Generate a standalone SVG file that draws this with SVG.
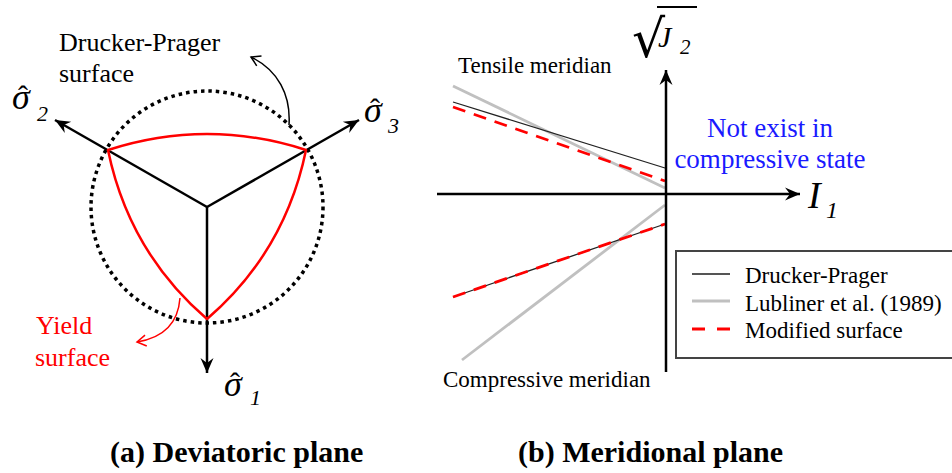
<svg xmlns="http://www.w3.org/2000/svg" width="952" height="473" viewBox="0 0 952 473">
<style>
text{font-family:"Liberation Serif","Times New Roman",serif;}
.lbl{font-size:26px;fill:#000;}
.red{fill:#ff0000;}
.blue{font-size:27px;fill:#1a1aff;}
.leg{font-size:23px;fill:#000;}
.mer{font-size:23px;fill:#000;}
.cap{font-size:30px;font-weight:bold;fill:#000;}
.sig{font-size:36px;font-style:italic;fill:#000;}
.hat{font-size:30px;font-style:normal;}
.sub{font-size:22px;font-style:italic;}
.axis{stroke:#000;stroke-width:2.5;fill:none;}
.dp{stroke:#222;stroke-width:1.3;fill:none;}
.lub{stroke:#c0c0c0;stroke-width:2.8;fill:none;}
.mod{stroke:#ff0000;stroke-width:2.8;stroke-dasharray:13 9;fill:none;}
</style>
<defs>
<marker id="ah" markerUnits="userSpaceOnUse" markerWidth="20" markerHeight="16" viewBox="-16 -8 20 16" refX="0" refY="0" orient="auto">
<path d="M0,0 L-15,-6.5 L-10,0 L-15,6.5 Z" fill="#000"/>
</marker>
<marker id="chev" markerUnits="userSpaceOnUse" markerWidth="16" markerHeight="16" viewBox="-12 -8 16 16" refX="0" refY="0" orient="auto">
<path d="M-9,-5.5 L0,0 L-9,5.5" fill="none" stroke="#000" stroke-width="1.5"/>
</marker>
<marker id="chevr" markerUnits="userSpaceOnUse" markerWidth="16" markerHeight="16" viewBox="-12 -8 16 16" refX="0" refY="0" orient="auto">
<path d="M-9,-5.5 L0,0 L-9,5.5" fill="none" stroke="#ff0000" stroke-width="1.5"/>
</marker>
</defs>

<!-- (a) Deviatoric plane -->
<g id="dp-circle">
<circle cx="207" cy="207" r="116" fill="none" stroke="#000" stroke-width="3.5" stroke-dasharray="3.5 4"/>
</g>
<g id="axes-a">
<line class="axis" x1="207" y1="207" x2="55" y2="120" marker-end="url(#ah)"/>
<line class="axis" x1="207" y1="207" x2="359" y2="120" marker-end="url(#ah)"/>
<line class="axis" x1="207" y1="207" x2="207" y2="373" marker-end="url(#ah)"/>
</g>
<g id="yield-surface">
<path d="M108,150 Q207,118 306,150 Q285,252 207,319 Q129,252 108,150 Z" fill="none" stroke="#ff0000" stroke-width="2.5" stroke-linejoin="round"/>
</g>
<g id="label-sigma2">
<text class="sig" x="12" y="109">σ<tspan class="hat" x="18" y="106">ˆ</tspan><tspan class="sub" x="37" y="121">2</tspan></text>
</g>
<g id="label-sigma3">
<text class="sig" x="364" y="122">σ<tspan class="hat" x="370" y="119">ˆ</tspan><tspan class="sub" x="388" y="133">3</tspan></text>
</g>
<g id="label-sigma1">
<text class="sig" x="224" y="396">σ<tspan class="hat" x="230" y="393">ˆ</tspan><tspan class="sub" x="250" y="405">1</tspan></text>
</g>
<g id="label-dp">
<text class="lbl" x="59" y="51">Drucker-Prager</text>
<text class="lbl" x="59" y="82">surface</text>
</g>
<g id="label-yield">
<text class="lbl red" x="36" y="334">Yield</text>
<text class="lbl red" x="35" y="366">surface</text>
</g>
<g id="callouts">
<path d="M289,125 C291,95 278,70 251,57" fill="none" stroke="#000" stroke-width="1.5" marker-end="url(#chev)"/>
<path d="M180,298 C178,325 162,338 137,342" fill="none" stroke="#ff0000" stroke-width="1.5" marker-end="url(#chevr)"/>
</g>

<!-- (b) Meridional plane -->
<g id="curves-b">
<line class="lub" x1="453" y1="86" x2="665" y2="188"/>
<line class="dp" x1="453" y1="102" x2="665" y2="168"/>
<line class="mod" x1="453" y1="107" x2="665" y2="181"/>
<line class="lub" x1="462" y1="360" x2="665" y2="205"/>
<line class="dp" x1="453" y1="297" x2="665" y2="224"/>
<line class="mod" x1="453" y1="297" x2="665" y2="224"/>
</g>
<g id="axes-b">
<line class="axis" x1="666" y1="372" x2="666" y2="70" marker-end="url(#ah)"/>
<line class="axis" x1="437" y1="194" x2="800" y2="194" marker-end="url(#ah)"/>
</g>
<g id="label-j2">
<text x="632" y="57" style="font-family:'DejaVu Serif',serif;font-size:52px;fill:#000;">√<tspan x="658" y="47" style="font-family:'Liberation Serif',serif;font-size:30px;font-style:italic;">J</tspan><tspan x="680" y="54" style="font-family:'Liberation Serif',serif;font-size:21px;font-style:italic;">2</tspan></text>
<line x1="657" y1="7" x2="697" y2="7" stroke="#000" stroke-width="2"/>
</g>
<g id="label-i1">
<text x="808" y="208" style="font-size:38px;font-style:italic;fill:#000;">I<tspan x="826" y="218" style="font-size:24px;">1</tspan></text>
</g>
<g id="label-tensile"><text class="mer" x="458" y="73">Tensile meridian</text></g>
<g id="label-compressive"><text class="mer" x="443" y="387">Compressive meridian</text></g>
<g id="label-notexist">
<text class="blue" x="770" y="137" text-anchor="middle">Not exist in</text>
<text class="blue" x="770" y="168" text-anchor="middle">compressive state</text>
</g>
<g id="legend">
<rect x="676" y="251" width="290" height="107" fill="#fff" stroke="#444" stroke-width="2"/>
<line x1="692" y1="274" x2="730" y2="274" stroke="#555" stroke-width="2"/>
<line x1="692" y1="301" x2="730" y2="301" stroke="#c0c0c0" stroke-width="3"/>
<line x1="692" y1="329" x2="730" y2="329" stroke="#ff0000" stroke-width="3" stroke-dasharray="13 12"/>
<text class="leg" x="745" y="283">Drucker-Prager</text>
<text class="leg" x="745" y="311">Lubliner et al. (1989)</text>
<text class="leg" x="745" y="338">Modified surface</text>
</g>

<g id="captions">
<text class="cap" x="110" y="462">(a) Deviatoric plane</text>
<text class="cap" x="518" y="462">(b) Meridional plane</text>
</g>
</svg>
